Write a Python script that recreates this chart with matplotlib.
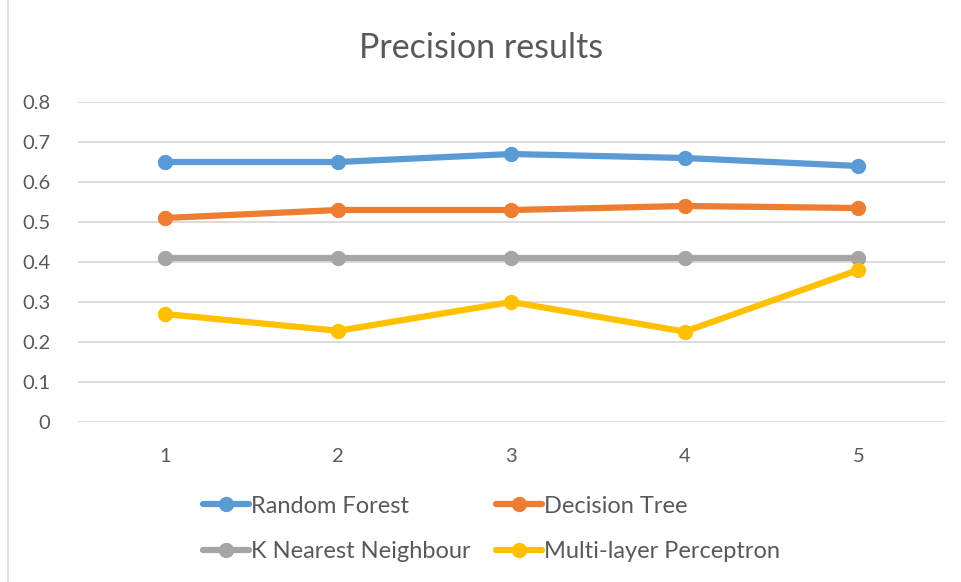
import matplotlib.pyplot as plt
from matplotlib.patches import Rectangle

# Precision per run for each classifier
runs = [1, 2, 3, 4, 5]
random_forest = [0.65, 0.65, 0.67, 0.66, 0.64]
decision_tree = [0.51, 0.53, 0.53, 0.54, 0.535]
knn = [0.41, 0.41, 0.41, 0.41, 0.41]
mlp = [0.27, 0.228, 0.30, 0.226, 0.38]

series = [
    ('Random Forest', random_forest, '#5B9BD5'),
    ('Decision Tree', decision_tree, '#ED7D31'),
    ('K Nearest Neighbour', knn, '#A5A5A5'),
    ('Multi-layer Perceptron', mlp, '#FFC000'),
]

plt.rcParams['font.family'] = ['Lato', 'DejaVu Sans']
text_color = '#595959'

fig = plt.figure(figsize=(9.62, 5.82), dpi=100)
ax = fig.add_axes([78 / 962, 1 - 422 / 582, (945 - 78) / 962, 320 / 582])

lines = {}
for name, vals, color in series:
    lines[name], = ax.plot(runs, vals, color=color, linewidth=4.5, marker='o',
                           markersize=10, label=name, solid_capstyle='round',
                           zorder=3)

ax.set_xlim(0.5, 5.5)
ax.set_ylim(0, 0.8)
ax.set_yticks([i / 10 for i in range(9)])
ax.set_yticklabels(['0'] + ['%.1f' % (i / 10) for i in range(1, 9)])
ax.set_xticks(runs)
ax.grid(axis='y', color='#D9D9D9', linewidth=1.3, zorder=0)
ax.set_axisbelow(True)
for s in ax.spines.values():
    s.set_visible(False)
ax.tick_params(length=0, labelsize=14.5, colors=text_color)
ax.tick_params(axis='y', pad=20)
ax.tick_params(axis='x', pad=19)

fig.text(0.5, 1 - 48 / 582, 'Precision results', ha='center', va='center',
         fontsize=24.5, color=text_color)

# legend filled row by row: matplotlib fills columns first, so reorder
order = ['Random Forest', 'K Nearest Neighbour', 'Decision Tree', 'Multi-layer Perceptron']
fig.legend([lines[n] for n in order], order, loc='center',
           bbox_to_anchor=(0.511, 1 - 529 / 582), ncol=2,
           frameon=False, fontsize=17, labelcolor=text_color,
           handlelength=1.95, handletextpad=0.1, columnspacing=1.05,
           labelspacing=1.05)

# light chart border
fig.patches.append(Rectangle((8 / 962, -0.01), 2, 1.02, transform=fig.transFigure,
                             fill=False, edgecolor='#D9D9D9', linewidth=1.2))

fig.savefig('out.png', dpi=100)
